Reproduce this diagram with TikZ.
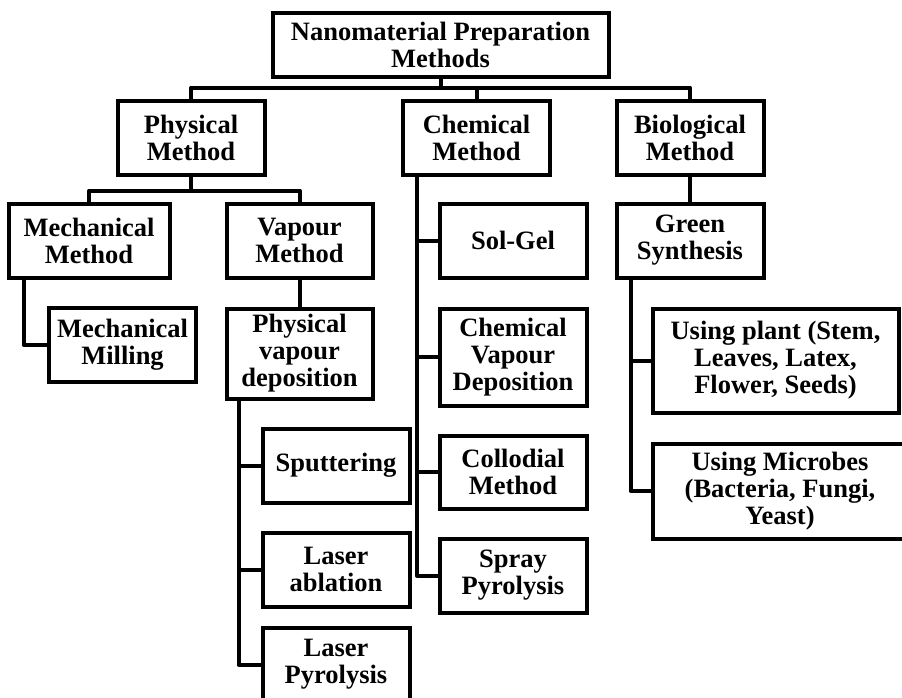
\documentclass[tikz,border=0pt]{standalone}
\usepackage{fontspec}
\setmainfont{Liberation Serif}
\usepackage{tikz}
\usetikzlibrary{calc}
\tikzstyle{box} = [draw, line width=4pt, align=center, inner sep=2pt, font=\bfseries\fontsize{26.5}{27}\selectfont, minimum width=147pt, minimum height=74pt]
\tikzstyle{link} = [line width=4pt, line join=round]

\begin{document}
\begin{tikzpicture}[x=1pt,y=-1pt]
\useasboundingbox (0,0) rectangle (902,697);

\node[box, minimum width=336pt, minimum height=64pt] (nano) at (440.5,44.5) {Nanomaterial Preparation\\Methods};

\node[box] (phys) at (191,137.5) {Physical\\Method};
\node[box] (chem) at (476.5,137.5) {Chemical\\Method};
\node[box] (bio) at (690,137.5) {Biological\\Method};

\node[box, minimum width=161pt] (mech) at (89,240.5) {Mechanical\\Method};
\node[box, minimum width=146pt] (vap) at (299.5,240.5) {Vapour\\Method};
\node[box] (mill) at (122.5,345) {Mechanical\\Milling};
\node[box, minimum width=146pt, minimum height=90pt] (pvd) at (299.5,353.5) {Physical\\vapour\\deposition};
\node[box] (sput) at (336,465.5) {Sputtering};
\node[box] (ablat) at (336,569.5) {Laser\\ablation};
\node[box] (pyro) at (336,664.5) {Laser\\Pyrolysis};

\node[box] (solgel) at (513,240.5) {Sol-Gel};
\node[box, minimum height=97pt] (cvd) at (513,357) {Chemical\\Vapour\\Deposition};
\node[box, minimum height=73pt] (coll) at (513,472) {Collodial\\Method};
\node[box] (spray) at (513,575.5) {Spray\\Pyrolysis};

\node[box] (green) at (690,240.5) {Green\\Synthesis};
\node[box, minimum width=246pt, minimum height=104pt] (plant) at (775.5,360.5) {Using plant (Stem,\\Leaves, Latex,\\Flower, Seeds)};
\node[box, minimum width=255pt, minimum height=95pt] (microbe) at (780,491) {Using Microbes\\(Bacteria, Fungi,\\Yeast)};

% top level
\draw[link] (nano.south) -- ++(0,9) coordinate (bus);
\draw[link] (bus) -| (phys.north);
\draw[link] (bus) -| (chem.north);
\draw[link] (bus) -| (bio.north);

% physical
\draw[link] (phys.south) -- ++(0,14) coordinate (pbus);
\draw[link] (pbus) -| (mech.north);
\draw[link] (pbus) -| (vap.north);
\draw[link] ($(mech.south west)+(17,0)$) coordinate (ms) |- (mill.west);
\draw[link] (vap.south) -- (pvd.north);
\draw[link] ($(pvd.south west)+(14,0)$) coordinate (ps) |- (sput.west);
\draw[link] (ps) |- (ablat.west);
\draw[link] (ps) |- (pyro.west);

% chemical
\draw[link] ($(chem.south west)+(16,0)$) coordinate (cs) |- (solgel.west);
\draw[link] (cs) |- (cvd.west);
\draw[link] (cs) |- (coll.west);
\draw[link] (cs) |- (spray.west);

% biological
\draw[link] (bio.south) -- (green.north);
\draw[link] ($(green.south west)+(16,0)$) coordinate (gs) |- (plant.west);
\draw[link] (gs) |- (microbe.west);
\end{tikzpicture}
\end{document}
